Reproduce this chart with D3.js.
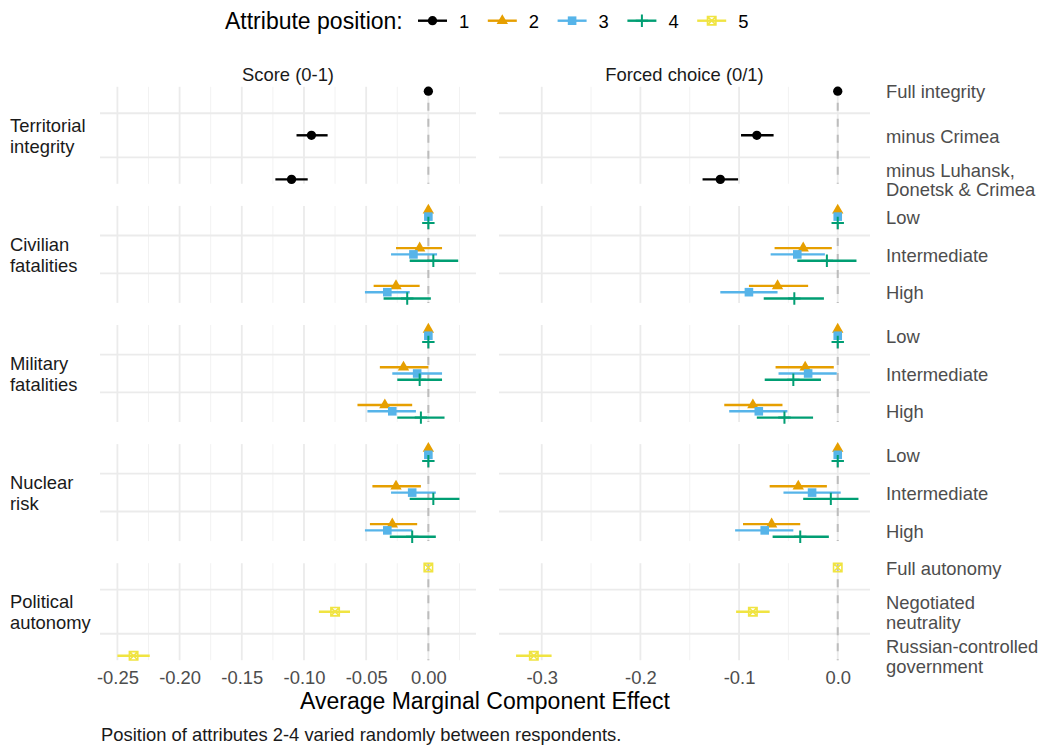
<!DOCTYPE html>
<html>
<head>
<meta charset="utf-8">
<title>AMCE by attribute position</title>
<style>
body {
  margin: 0;
  background: #fff;
  font-family: "Liberation Sans", Arial, sans-serif;
}
.grid-major { stroke: #ebebeb; stroke-width: 1.8; }
.grid-minor { stroke: #f2f2f2; stroke-width: 1; }
.zero { stroke: #bdbdbd; stroke-width: 2; stroke-dasharray: 8 8; }
.strip { font-size: 18.4px; fill: #1a1a1a; text-anchor: middle; }
.row-label { font-size: 18.4px; fill: #1a1a1a; }
.level-label { font-size: 18.4px; fill: #4d4d4d; }
.x.axis text { font-size: 18.4px; fill: #4d4d4d; font-family: "Liberation Sans", Arial, sans-serif; }
.axis-title { font-size: 23px; fill: #000; text-anchor: middle; }
.caption { font-size: 18.4px; fill: #1a1a1a; }
.legend-title { font-size: 23px; fill: #000; }
.legend-text { font-size: 18.4px; fill: #000; }
</style>
</head>
<body>
<div id="vis"></div>

<script src="https://cdn.jsdelivr.net/npm/d3@7"></script>
<script>

// ---- data ----
var outcomes = ["Score (0-1)", "Forced choice (0/1)"];
var attributes = ["Territorial\nintegrity", "Civilian\nfatalities", "Military\nfatalities", "Nuclear\nrisk", "Political\nautonomy"];
var levels = [
  ["Full integrity", "minus Crimea", "minus Luhansk,\nDonetsk & Crimea"],
  ["Low", "Intermediate", "High"],
  ["Low", "Intermediate", "High"],
  ["Low", "Intermediate", "High"],
  ["Full autonomy", "Negotiated\nneutrality", "Russian-controlled\ngovernment"]
];
var positions = [1, 2, 3, 4, 5];
var posColors = ["#000000", "#E69F00", "#56B4E9", "#009E73", "#F0E442"];

// rows: [attribute, level, position, estimate, lower, upper]
var scoreRows = [
  [0, 0, 1, 0, 0, 0], [0, 1, 1, -0.094, -0.106, -0.081], [0, 2, 1, -0.110, -0.123, -0.097],
  [1, 0, 2, 0, 0, 0], [1, 0, 3, 0, 0, 0], [1, 0, 4, 0, 0, 0],
  [1, 1, 2, -0.007, -0.026, 0.011], [1, 1, 3, -0.012, -0.030, 0.007], [1, 1, 4, 0.004, -0.015, 0.024],
  [1, 2, 2, -0.026, -0.044, -0.007], [1, 2, 3, -0.033, -0.051, -0.015], [1, 2, 4, -0.017, -0.036, 0.002],
  [2, 0, 2, 0, 0, 0], [2, 0, 3, 0, 0, 0], [2, 0, 4, 0, 0, 0],
  [2, 1, 2, -0.020, -0.039, 0.000], [2, 1, 3, -0.009, -0.029, 0.011], [2, 1, 4, -0.007, -0.025, 0.011],
  [2, 2, 2, -0.035, -0.057, -0.013], [2, 2, 3, -0.029, -0.049, -0.010], [2, 2, 4, -0.006, -0.025, 0.013],
  [3, 0, 2, 0, 0, 0], [3, 0, 3, 0, 0, 0], [3, 0, 4, 0, 0, 0],
  [3, 1, 2, -0.026, -0.045, -0.006], [3, 1, 3, -0.013, -0.030, 0.006], [3, 1, 4, 0.004, -0.015, 0.025],
  [3, 2, 2, -0.029, -0.047, -0.009], [3, 2, 3, -0.033, -0.051, -0.013], [3, 2, 4, -0.013, -0.031, 0.006],
  [4, 0, 5, 0, 0, 0], [4, 1, 5, -0.075, -0.088, -0.063], [4, 2, 5, -0.237, -0.250, -0.224]
];

var choiceRows = [
  [0, 0, 1, 0, 0, 0], [0, 1, 1, -0.082, -0.098, -0.065], [0, 2, 1, -0.119, -0.137, -0.101],
  [1, 0, 2, 0, 0, 0], [1, 0, 3, 0, 0, 0], [1, 0, 4, 0, 0, 0],
  [1, 1, 2, -0.035, -0.064, -0.006], [1, 1, 3, -0.041, -0.068, -0.013], [1, 1, 4, -0.011, -0.041, 0.019],
  [1, 2, 2, -0.061, -0.090, -0.030], [1, 2, 3, -0.090, -0.119, -0.061], [1, 2, 4, -0.044, -0.075, -0.014],
  [2, 0, 2, 0, 0, 0], [2, 0, 3, 0, 0, 0], [2, 0, 4, 0, 0, 0],
  [2, 1, 2, -0.033, -0.063, -0.004], [2, 1, 3, -0.030, -0.060, -0.001], [2, 1, 4, -0.045, -0.074, -0.017],
  [2, 2, 2, -0.086, -0.115, -0.056], [2, 2, 3, -0.080, -0.110, -0.051], [2, 2, 4, -0.054, -0.082, -0.025],
  [3, 0, 2, 0, 0, 0], [3, 0, 3, 0, 0, 0], [3, 0, 4, 0, 0, 0],
  [3, 1, 2, -0.040, -0.069, -0.011], [3, 1, 3, -0.026, -0.055, 0.003], [3, 1, 4, -0.007, -0.035, 0.021],
  [3, 2, 2, -0.067, -0.096, -0.038], [3, 2, 3, -0.074, -0.104, -0.045], [3, 2, 4, -0.038, -0.066, -0.009],
  [4, 0, 5, 0, 0, 0], [4, 1, 5, -0.086, -0.103, -0.069], [4, 2, 5, -0.308, -0.326, -0.290]
];

// x axis ticks per outcome
var scoreDomain = [-0.264, 0.0383];
var choiceDomain = [-0.3433, 0.0327];
var scoreTicks = [-0.25, -0.20, -0.15, -0.10, -0.05, 0.00];
var scoreTickLabels = ["-0.25", "-0.20", "-0.15", "-0.10", "-0.05", "0.00"];
var scoreMinor = [-0.225, -0.175, -0.125, -0.075, -0.025, 0.025];
var choiceTicks = [-0.3, -0.2, -0.1, 0.0];
var choiceTickLabels = ["-0.3", "-0.2", "-0.1", "0.0"];
var choiceMinor = [-0.25, -0.15, -0.05];

// ---- layout ----
var width = 1046, height = 747;
var colX = [[100, 476], [499, 870]];
var rowTop = 86.8, rowStep = 119.1, rowH = 97;
var dodge = 1 / 6;

var svg = d3.select("#vis").append("svg")
    .attr("width", width)
    .attr("height", height);

var panels = [
  {rows: scoreRows, domain: scoreDomain, ticks: scoreTicks, labels: scoreTickLabels, minor: scoreMinor},
  {rows: choiceRows, domain: choiceDomain, ticks: choiceTicks, labels: choiceTickLabels, minor: choiceMinor}
];

// y scale for one attribute row (ggplot-like continuous with 5% expansion)
function yScale(ai) {
  var d = (ai >= 1 && ai <= 3) ? dodge : 0;
  var lo = 1 - d, hi = 3 + d, e = (hi - lo) * 0.05;
  var top = rowTop + ai * rowStep;
  return d3.scaleLinear().domain([lo - e, hi + e]).range([top, top + rowH]);
}

function yPos(ai, li, pos) {
  var y = yScale(ai);
  var off = (ai >= 1 && ai <= 3) ? (pos - 3) * dodge : 0;
  return y(li + 1 + off);
}

// marker shapes (ggplot shapes 16, 17, 15, 3, 7)
function drawMarker(g, pos, x, y) {
  var c = posColors[pos - 1];
  if (pos === 1) {
    g.append("path").attr("d", d3.symbol(d3.symbolCircle, 68)())
      .attr("transform", "translate(" + x + "," + y + ")").attr("fill", c);
  } else if (pos === 2) {
    g.append("path").attr("d", d3.symbol(d3.symbolTriangle, 56)())
      .attr("transform", "translate(" + x + "," + y + ")").attr("fill", c);
  } else if (pos === 3) {
    g.append("path").attr("d", d3.symbol(d3.symbolSquare, 74)())
      .attr("transform", "translate(" + x + "," + y + ")").attr("fill", c);
  } else if (pos === 4) {
    g.append("path")
      .attr("d", "M" + (x - 6.2) + "," + y + "H" + (x + 6.2) + "M" + x + "," + (y - 6.2) + "V" + (y + 6.2))
      .attr("stroke", c).attr("stroke-width", 2).attr("fill", "none");
  } else {
    var h = 4.2;
    g.append("path")
      .attr("d", "M" + (x - h) + "," + (y - h) + "h" + 2 * h + "v" + 2 * h + "h" + -2 * h + "Z" +
                 "M" + (x - h) + "," + (y - h) + "L" + (x + h) + "," + (y + h) +
                 "M" + (x + h) + "," + (y - h) + "L" + (x - h) + "," + (y + h))
      .attr("stroke", c).attr("stroke-width", 1.6).attr("fill", "none");
  }
}

var panelBottom = rowTop + 4 * rowStep + rowH;

panels.forEach(function(p, ci) {
  var x = d3.scaleLinear().domain(p.domain).range(colX[ci]);
  var g = svg.append("g");

  // strip label
  g.append("text")
    .attr("class", "strip")
    .attr("x", (colX[ci][0] + colX[ci][1]) / 2)
    .attr("y", 81)
    .text(outcomes[ci]);

  attributes.forEach(function(attr, ai) {
    var y = yScale(ai);
    var top = y.range()[0], bottom = y.range()[1];
    var pg = g.append("g");

    // minor vertical grid
    pg.selectAll(".grid-minor").data(p.minor).enter().append("line")
      .attr("class", "grid-minor")
      .attr("x1", function(d) { return x(d); }).attr("x2", function(d) { return x(d); })
      .attr("y1", top).attr("y2", bottom);

    // major vertical grid
    pg.selectAll(".grid-major.v").data(p.ticks).enter().append("line")
      .attr("class", "grid-major v")
      .attr("x1", function(d) { return x(d); }).attr("x2", function(d) { return x(d); })
      .attr("y1", top).attr("y2", bottom);

    // horizontal lines between levels
    pg.selectAll(".grid-major.h").data([1.5, 2.5]).enter().append("line")
      .attr("class", "grid-major h")
      .attr("x1", colX[ci][0]).attr("x2", colX[ci][1])
      .attr("y1", function(d) { return y(d); }).attr("y2", function(d) { return y(d); });

    // zero reference
    pg.append("line")
      .attr("class", "zero")
      .attr("x1", x(0)).attr("x2", x(0))
      .attr("y1", top).attr("y2", bottom);

    // estimates with intervals
    p.rows.filter(function(r) { return r[0] === ai; }).forEach(function(r) {
      var yy = yPos(ai, r[1], r[2]);
      if (r[5] > r[4]) {
        pg.append("line")
          .attr("x1", x(r[4])).attr("x2", x(r[5]))
          .attr("y1", yy).attr("y2", yy)
          .attr("stroke", posColors[r[2] - 1])
          .attr("stroke-width", 2.4);
      }
      drawMarker(pg, r[2], x(r[3]), yy);
    });

    // row labels on the left, level labels on the right
    if (ci === 0) {
      var lines = attr.split("\n");
      var t = svg.append("text").attr("class", "row-label")
        .attr("x", 10).attr("y", (top + bottom) / 2);
      lines.forEach(function(s, i) {
        t.append("tspan").attr("x", 10)
          .attr("dy", i === 0 ? (-(lines.length - 1) / 2 * 20.5 + 7) : 20.5)
          .text(s);
      });
    } else {
      levels[ai].forEach(function(lab, li) {
        var ls = lab.split("\n");
        var t = svg.append("text").attr("class", "level-label")
          .attr("x", 886).attr("y", y(li + 1));
        ls.forEach(function(s, i) {
          t.append("tspan").attr("x", 886)
            .attr("dy", i === 0 ? (-(ls.length - 1) / 2 * 19.5 + 7.2) : 19.5)
            .text(s);
        });
      });
    }
  });

  // x axis
  var xAxis = d3.axisBottom(x)
    .tickValues(p.ticks)
    .tickFormat(function(d, i) { return p.labels[i]; })
    .tickSize(0)
    .tickPadding(11);

  var ax = svg.append("g")
    .attr("class", "x axis")
    .attr("transform", "translate(0," + panelBottom + ")")
    .call(xAxis);
  ax.select(".domain").remove();
});

// axis title
svg.append("text")
  .attr("class", "axis-title")
  .attr("x", (colX[0][0] + colX[1][1]) / 2)
  .attr("y", 709)
  .text("Average Marginal Component Effect");

// caption
svg.append("text")
  .attr("class", "caption")
  .attr("x", 101)
  .attr("y", 741)
  .text("Position of attributes 2-4 varied randomly between respondents.");

// legend
var legend = svg.append("g");
legend.append("text")
  .attr("class", "legend-title")
  .attr("x", 225)
  .attr("y", 29)
  .text("Attribute position:");

positions.forEach(function(pos, i) {
  var kx = 418 + i * 69.8, ky = 20.7;
  legend.append("line")
    .attr("x1", kx).attr("x2", kx + 29)
    .attr("y1", ky).attr("y2", ky)
    .attr("stroke", posColors[i])
    .attr("stroke-width", 2.4);
  drawMarker(legend, pos, kx + 14.5, ky);
  legend.append("text")
    .attr("class", "legend-text")
    .attr("x", kx + 41)
    .attr("y", 27.5)
    .text(pos);
});

</script>
</body>
</html>
